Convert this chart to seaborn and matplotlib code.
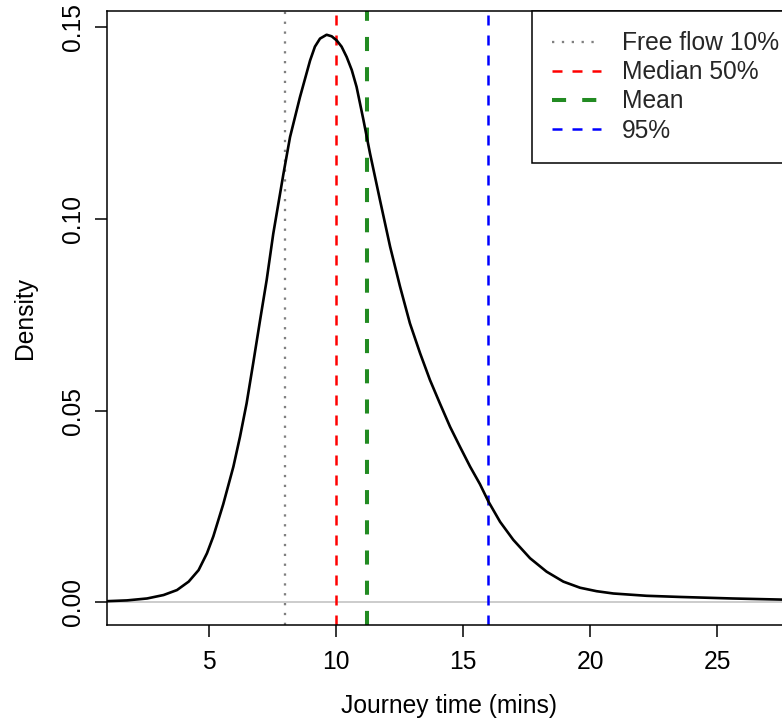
import matplotlib
matplotlib.use("Agg")
import matplotlib.pyplot as plt
from matplotlib.lines import Line2D
import seaborn as sns

# Estimated journey-time density curve (minutes, density)
journey_time = [1.0, 1.77, 2.56, 3.21, 3.74, 4.20, 4.59, 4.92, 5.17, 5.56,
                5.96, 6.22, 6.48, 6.74, 7.01, 7.27, 7.53, 7.93, 8.19, 8.58,
                8.98, 9.17, 9.37, 9.63, 9.83, 10.03, 10.22, 10.42, 10.62,
                10.81, 11.07, 11.34, 11.73, 12.13, 12.52, 12.91, 13.31, 13.70,
                14.09, 14.49, 14.88, 15.28, 15.67, 16.0, 16.46, 16.98, 17.64,
                18.29, 18.95, 19.61, 20.26, 20.92, 22.23, 23.54, 25.6, 27.6,
                29.0]
density = [0.0003, 0.0005, 0.0010, 0.0019, 0.0032, 0.0054, 0.0084, 0.0128,
           0.0172, 0.0256, 0.0354, 0.0432, 0.0519, 0.0624, 0.0736, 0.0841,
           0.0962, 0.1118, 0.1214, 0.1318, 0.1414, 0.1450, 0.1471, 0.1481,
           0.1477, 0.1466, 0.1450, 0.1423, 0.1389, 0.1345, 0.1262, 0.1171,
           0.1050, 0.0928, 0.0824, 0.0728, 0.0650, 0.0580, 0.0519, 0.0458,
           0.0406, 0.0354, 0.0308, 0.0263, 0.0210, 0.0163, 0.0115, 0.0080,
           0.0054, 0.0038, 0.0029, 0.0023, 0.0017, 0.0014, 0.0010, 0.0007,
           0.0006]

# Reference journey times marked on the distribution
ref_labels = ["Free flow 10%", "Median 50%", "Mean", "95%"]
ref_values = [8.0, 10.0, 11.22, 16.0]

x_ticks = [5, 10, 15, 20, 25]
y_ticks = [0.0, 0.05, 0.10, 0.15]
y_tick_labels = ["0.00", "0.05", "0.10", "0.15"]

sns.set_style("ticks")
plt.rcParams["font.family"] = ["Liberation Sans", "DejaVu Sans"]
FS = 17.7

W, H = 782, 724
fig = plt.figure(figsize=(W / 100, H / 100), dpi=100)
ax_left, ax_right, ax_top, ax_bottom = 107, 791, 11, 624.5
ax = fig.add_axes([ax_left / W, (H - ax_bottom) / H,
                   (ax_right - ax_left) / W, (ax_bottom - ax_top) / H])

ax.axhline(0, color="#BEBEBE", lw=1.1, zorder=1)
sns.lineplot(x=journey_time, y=density, color="black", lw=1.9, sort=False,
             ax=ax, zorder=3, solid_joinstyle="round", solid_capstyle="round")

ref_styles = [
    dict(color="#7F7F7F", lw=1.65, linestyle=(0, (1, 3.3))),
    dict(color="#FF0000", lw=1.8, linestyle=(0, (4, 4))),
    dict(color="#228B22", lw=2.9, linestyle=(0, (3.5, 4))),
    dict(color="#0000FF", lw=1.8, linestyle=(0, (4, 4))),
]
handles = []
for label, value, style in zip(ref_labels, ref_values, ref_styles):
    ax.axvline(value, zorder=2, **style)
    handles.append(Line2D([], [], label=label, **style))

ax.set_xlim(0.984, 0.984 + (ax_right - ax_left) / 25.4)
ax.set_ylim(-0.00579, 0.1543)
ax.set_xticks(x_ticks)
ax.set_yticks(y_ticks)
ax.set_yticklabels(y_tick_labels)

ax.tick_params(axis="both", direction="out", length=8.6, width=1.1,
               color="black", labelsize=FS, labelcolor="black")
ax.tick_params(axis="x", pad=10)
ax.tick_params(axis="y", pad=7.2)
for lab in ax.get_yticklabels():
    lab.set_rotation(90)
    lab.set_va("center")

for sp in ax.spines.values():
    sp.set_color("black")
    sp.set_linewidth(1.1)

ax.set_xlabel("Journey time (mins)", fontsize=FS, color="black")
ax.set_ylabel("Density", fontsize=FS, color="black")
ax.xaxis.label.set_va("center")
ax.yaxis.label.set_va("center")
ax.xaxis.set_label_coords(0.5, (ax_bottom - 706) / (ax_bottom - ax_top))
ax.yaxis.set_label_coords((25 - ax_left) / (ax_right - ax_left), 0.5)

leg = ax.legend(handles=handles, loc="upper left",
                bbox_to_anchor=((532 - ax_left) / (ax_right - ax_left), 1.0),
                borderaxespad=0, fontsize=FS, frameon=True, fancybox=False,
                handlelength=2.0, handletextpad=0.85, borderpad=0.82,
                labelspacing=0.21)
frame = leg.get_frame()
frame.set_edgecolor("black")
frame.set_linewidth(1.1)
frame.set_facecolor("white")
frame.set_alpha(1)

fig.savefig("out.png", dpi=100)
